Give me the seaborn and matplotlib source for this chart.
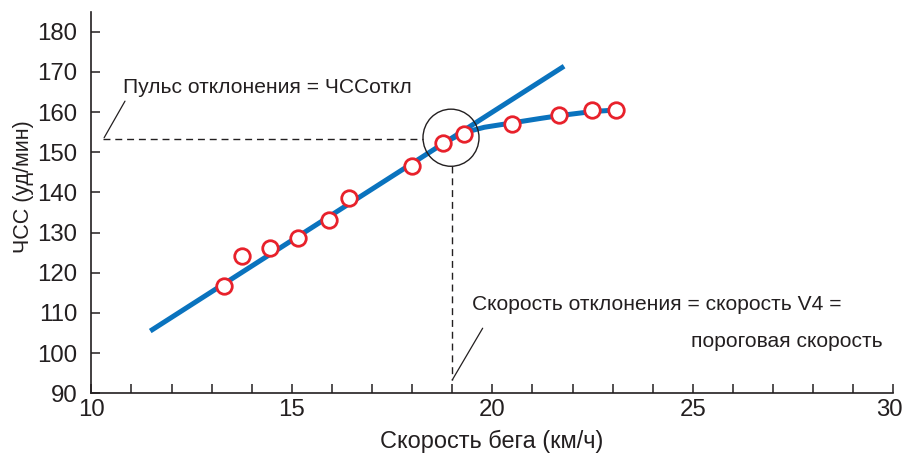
import matplotlib
matplotlib.use("Agg")
import matplotlib.pyplot as plt
import matplotlib.transforms as mtransforms
from matplotlib import font_manager
from matplotlib.patches import Ellipse
import seaborn as sns
import pandas as pd

# ---- data ----
speed_pts = [13.31, 13.77, 14.46, 15.16, 15.92, 16.43, 18.00, 18.77, 19.29, 20.50, 21.67, 22.48, 23.08]
hr_pts = [116.6, 124.2, 126.1, 128.6, 133.2, 138.5, 146.5, 152.2, 154.6, 156.9, 159.2, 160.4, 160.5]

lin_x = [11.47, 21.79]
lin_y = [105.5, 171.4]

curve_x = [18.9, 19.3, 19.8, 20.5, 21.2, 21.67, 22.48, 23.08]
curve_y = [152.9, 154.9, 156.2, 157.3, 158.4, 159.1, 160.1, 160.5]

defl_speed = 19.0
defl_hr = 153.3

x_ticks = [10, 15, 20, 25, 30]
y_ticks = [90, 100, 110, 120, 130, 140, 150, 160, 170, 180]

label_hr = "Пульс отклонения = ЧССоткл"
label_v1 = "Скорость отклонения = скорость V4 ="
label_v2 = "пороговая скорость"
xlabel = "Скорость бега (км/ч)"
ylabel = "ЧСС (уд/мин)"

# ---- style ----
sns.set_style("ticks")
plt.rcParams['font.family'] = ['Liberation Sans', 'DejaVu Sans']

installed = {f.name for f in font_manager.fontManager.ttflist}
if 'Liberation Sans Narrow' in installed:
    ylab_family, ylab_size = ['Liberation Sans Narrow', 'Liberation Sans'], 16.9
else:
    ylab_family, ylab_size = ['Liberation Sans', 'DejaVu Sans'], 15.5

BLUE = "#0A73BE"
RED = "#E8212B"
INK = "#231F20"

fig = plt.figure(figsize=(9.02, 4.53), dpi=100)
ax = fig.add_axes([91.3 / 902, 1 - 393.3 / 453, (893.3 - 91.3) / 902, (393.3 - 12.35) / 453])

df_lin = pd.DataFrame({"x": lin_x, "y": lin_y})
df_cur = pd.DataFrame({"x": curve_x, "y": curve_y})
df_pts = pd.DataFrame({"x": speed_pts, "y": hr_pts})

sns.lineplot(data=df_lin, x="x", y="y", ax=ax, color=BLUE, linewidth=3.6,
             solid_capstyle="butt", sort=False, zorder=3)
sns.lineplot(data=df_cur, x="x", y="y", ax=ax, color=BLUE, linewidth=3.6,
             solid_capstyle="butt", sort=False, zorder=3)
sns.scatterplot(data=df_pts, x="x", y="y", ax=ax, marker="o", s=125,
                facecolor="white", edgecolor=RED, linewidth=2.0, zorder=4)

# deflection circle
circ_w = 2 * 28 / 40.1
circ_h = 2 * 28.5 / 4.01
ax.add_patch(Ellipse((18.97, 153.6), circ_w, circ_h, fill=False,
                     edgecolor=INK, linewidth=1.0, zorder=5))

# dashed guides
ax.plot([10.3, 18.97 - circ_w / 2], [defl_hr, defl_hr], color=INK, lw=1.0,
        dashes=(5, 3.5), zorder=2)
ax.plot([defl_speed, defl_speed], [153.6 - circ_h / 2, 93.3], color=INK, lw=1.0,
        dashes=(5, 3.5), zorder=2)

# leader lines
ax.plot([10.84, 10.32], [162.7, 153.6], color=INK, lw=0.9, zorder=2)
ax.plot([19.76, 19.0], [106.2, 93.3], color=INK, lw=0.9, zorder=2)

# annotations
ax.text(10.79, 166.2, label_hr, ha="left", va="center", fontsize=15.1, color=INK)
ax.text(19.49, 112.0, label_v1, ha="left", va="center", fontsize=15.1, color=INK)
ax.text(29.74, 102.9, label_v2, ha="right", va="center", fontsize=15.1, color=INK)

# axes
ax.set_xlim(10, 30)
ax.set_ylim(90, 184.8)
ax.set_xticks(x_ticks)
ax.set_xticks(range(10, 31), minor=True)
ax.set_yticks(y_ticks)
ax.tick_params(axis="both", which="both", direction="in", length=6.5, width=1.1,
               color=INK, labelcolor=INK, labelsize=17.3)
ax.tick_params(axis="x", which="major", pad=4)
ax.tick_params(axis="y", which="major", pad=10)
sns.despine(ax=ax)
for s in ("left", "bottom"):
    ax.spines[s].set_color(INK)
    ax.spines[s].set_linewidth(1.2)

ax.set_xlabel(xlabel, fontsize=16.9, color=INK)
ax.set_ylabel(ylabel, fontsize=ylab_size, color=INK, family=ylab_family)
ax.xaxis.label.set_va("center")
ax.yaxis.label.set_va("center")
ax.xaxis.set_label_coords((492 - 91.3) / 802, (393.3 - 441) / 380.95)
ax.yaxis.set_label_coords((23 - 91.3) / 802, (393.3 - 186.7) / 380.95)

# nudge the last x tick label inward so it stays inside the figure
shift = mtransforms.ScaledTranslation(-4 / 100, 0, fig.dpi_scale_trans)
last = ax.get_xticklabels()[-1]
last.set_transform(last.get_transform() + shift)

fig.savefig("out.png", dpi=100)
